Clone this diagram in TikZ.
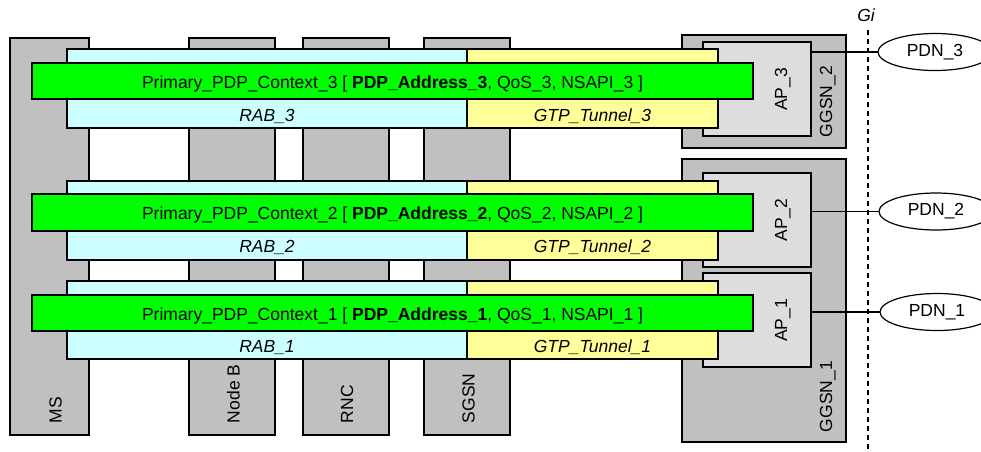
\documentclass[tikz,border=0pt]{standalone}
\usepackage{fontspec}
\setmainfont{Liberation Sans}
\usetikzlibrary{shapes.geometric}
\definecolor{colgray}{HTML}{C0C0C0}
\definecolor{apgray}{HTML}{DDDDDD}
\definecolor{rabcyan}{HTML}{CCFFFF}
\definecolor{gtpyellow}{HTML}{FFFF99}
\definecolor{pdpgreen}{HTML}{00FF00}
\begin{document}
\begin{tikzpicture}[x=1pt,y=-1pt,
  every node/.style={font=\fontsize{17.5}{21}\selectfont, inner sep=0pt, outer sep=0pt},
  box/.style={draw=black, line width=1.2pt, rectangle, anchor=north west, inner sep=0pt},
  colbox/.style={box, fill=colgray, minimum width=86pt, minimum height=397pt},
  ggsnbox/.style={box, fill=colgray, minimum width=164pt},
  apbox/.style={box, fill=apgray, minimum width=108pt, minimum height=94pt},
  rabbox/.style={box, fill=rabcyan, minimum width=400pt, minimum height=79pt},
  gtpbox/.style={box, fill=gtpyellow, minimum width=251pt, minimum height=79pt},
  pdpbox/.style={box, fill=pdpgreen, minimum width=721pt, minimum height=36pt},
  vlbl/.style={rotate=90, anchor=base west},
  aplbl/.style={rotate=90, anchor=base},
  pdn/.style={ellipse, draw=black, line width=1.2pt, minimum width=114pt, minimum height=37pt, inner sep=0pt},
  link/.style={draw=black, line width=1.2pt}
]
\useasboundingbox (0,0) rectangle (981,451);
\clip (0,0) rectangle (981,451);

% GGSN boxes and access points
\node[ggsnbox, minimum height=113pt] (ggsn2) at (682,35) {};
\node[ggsnbox, minimum height=283pt] (ggsn1) at (682,159) {};
\node[apbox] (ap3) at (703,42) {};
\node[apbox] (ap2) at (703,173) {};
\node[apbox] (ap1) at (703,273) {};

% Gi reference point
\node[font=\fontsize{17.5}{21}\selectfont\itshape, anchor=base] (gi) at (866,21.5) {Gi};
\coordinate (gitop) at (868,30);
\coordinate (gibot) at (868,451);
\draw[line width=1.2pt, dash pattern=on 5pt off 4pt] (gitop) -- (gibot);

% PDNs
\node[pdn] (pdn3) at (935,52) {PDN\_3};
\node[pdn] (pdn2) at (936,211.5) {PDN\_2};
\node[pdn] (pdn1) at (937,312) {PDN\_1};
\draw[link] (ap3.east |- pdn3.west) -- (pdn3.west);
\draw[link] (ap2.east |- pdn2.west) -- (pdn2.west);
\draw[link] (ap1.east |- pdn1.west) -- (pdn1.west);

% network element columns
\node[colbox, minimum width=79pt] (ms) at (10,38) {};
\node[colbox] (nodeb) at (189,38) {};
\node[colbox] (rnc) at (303,38) {};
\node[colbox] (sgsn) at (424,38) {};

% bearer bands
\node[rabbox] (rab3) at (67,49) {};
\node[gtpbox] (gtp3) at (467,49) {};
\node[rabbox] (rab2) at (67,181) {};
\node[gtpbox] (gtp2) at (467,181) {};
\node[rabbox, minimum height=78pt] (rab1) at (67,281) {};
\node[gtpbox, minimum height=78pt] (gtp1) at (467,281) {};

% PDP contexts
\node[pdpbox] (pdp3) at (32,63) {};
\node[pdpbox, minimum height=37pt] (pdp2) at (32,194) {};
\node[pdpbox] (pdp1) at (32,295) {};

\node[anchor=base] (pdp3t) at (392.5,88) {Primary\_PDP\_Context\_3 [ \textbf{PDP\_Address\_3}, QoS\_3, NSAPI\_3 ]};
\node[anchor=base] (pdp2t) at (392.5,219) {Primary\_PDP\_Context\_2 [ \textbf{PDP\_Address\_2}, QoS\_2, NSAPI\_2 ]};
\node[anchor=base] (pdp1t) at (392.5,320) {Primary\_PDP\_Context\_1 [ \textbf{PDP\_Address\_1}, QoS\_1, NSAPI\_1 ]};

\node[anchor=base, font=\fontsize{17.5}{21}\selectfont\itshape] (rab3t) at (267,121.5) {RAB\_3};
\node[anchor=base, font=\fontsize{17.5}{21}\selectfont\itshape] (gtp3t) at (592.5,121.5) {GTP\_Tunnel\_3};
\node[anchor=base, font=\fontsize{17.5}{21}\selectfont\itshape] (rab2t) at (267,252) {RAB\_2};
\node[anchor=base, font=\fontsize{17.5}{21}\selectfont\itshape] (gtp2t) at (592.5,252) {GTP\_Tunnel\_2};
\node[anchor=base, font=\fontsize{17.5}{21}\selectfont\itshape] (rab1t) at (267,352) {RAB\_1};
\node[anchor=base, font=\fontsize{17.5}{21}\selectfont\itshape] (gtp1t) at (592.5,352) {GTP\_Tunnel\_1};

% vertical labels
\node[vlbl] (mst) at (61.5,423) {MS};
\node[vlbl] (nodebt) at (239.5,423) {Node B};
\node[vlbl] (rnct) at (353,423) {RNC};
\node[vlbl] (sgsnt) at (474.5,423) {SGSN};
\node[vlbl] (ggsn2t) at (832,137) {GGSN\_2};
\node[vlbl] (ggsn1t) at (832,432) {GGSN\_1};
\node[aplbl] (ap3t) at (787,89.5) {AP\_3};
\node[aplbl] (ap2t) at (787,220) {AP\_2};
\node[aplbl] (ap1t) at (787,320.5) {AP\_1};
\end{tikzpicture}
\end{document}
